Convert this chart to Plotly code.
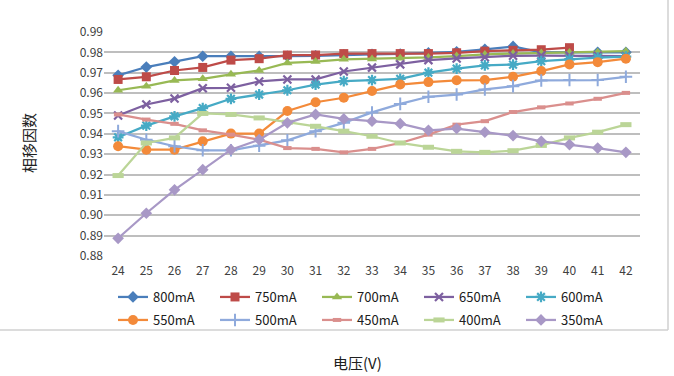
import plotly.graph_objects as go

# Phase-shift factor vs. voltage for each drive current
voltage = list(range(24, 43))

pf_800 = [0.9687, 0.9728, 0.9754, 0.9781, 0.9781, 0.9780, 0.9781, 0.9783, 0.9788, 0.9790,
          0.9792, 0.9797, 0.9803, 0.9815, 0.9829, 0.9800, 0.9800, 0.9800, 0.9800]
pf_750 = [0.9667, 0.9680, 0.9711, 0.9726, 0.9762, 0.9769, 0.9787, 0.9787, 0.9794, 0.9794,
          0.9794, 0.9794, 0.9798, 0.9806, 0.9810, 0.9813, 0.9823, None, None]
pf_700 = [0.9614, 0.9634, 0.9662, 0.9670, 0.9692, 0.9711, 0.9748, 0.9755, 0.9766, 0.9768,
          0.9771, 0.9775, 0.9782, 0.9790, 0.9794, 0.9797, 0.9799, 0.9800, 0.9806]
pf_650 = [0.9490, 0.9544, 0.9573, 0.9624, 0.9626, 0.9657, 0.9667, 0.9667, 0.9706, 0.9725,
          0.9741, 0.9762, 0.9770, 0.9776, 0.9783, 0.9784, 0.9784, 0.9783, 0.9782]
pf_600 = [0.9383, 0.9440, 0.9486, 0.9526, 0.9572, 0.9593, 0.9614, 0.9642, 0.9659, 0.9664,
          0.9670, 0.9700, 0.9720, 0.9736, 0.9740, 0.9757, 0.9766, 0.9774, 0.9779]
pf_550 = [0.9339, 0.9322, 0.9322, 0.9363, 0.9401, 0.9401, 0.9512, 0.9555, 0.9577, 0.9610,
          0.9642, 0.9654, 0.9663, 0.9664, 0.9680, 0.9708, 0.9741, 0.9752, 0.9769]
pf_500 = [0.9413, 0.9371, 0.9339, 0.9319, 0.9319, 0.9342, 0.9368, 0.9413, 0.9454, 0.9505,
          0.9547, 0.9582, 0.9593, 0.9618, 0.9634, 0.9662, 0.9664, 0.9664, 0.9680]
pf_450 = [0.9495, 0.9470, 0.9449, 0.9417, 0.9396, 0.9371, 0.9330, 0.9326, 0.9309, 0.9326,
          0.9355, 0.9396, 0.9445, 0.9462, 0.9507, 0.9530, 0.9549, 0.9572, 0.9601]
pf_400 = [0.9195, 0.9355, 0.9380, 0.9500, 0.9495, 0.9478, 0.9457, 0.9437, 0.9413, 0.9388,
          0.9355, 0.9334, 0.9314, 0.9309, 0.9317, 0.9343, 0.9380, 0.9408, 0.9445]
pf_350 = [0.8887, 0.9010, 0.9125, 0.9224, 0.9322, 0.9371, 0.9454, 0.9495, 0.9473, 0.9462,
          0.9450, 0.9417, 0.9426, 0.9408, 0.9391, 0.9363, 0.9347, 0.9330, 0.9309]

y_ticks = [0.88, 0.89, 0.90, 0.91, 0.92, 0.93, 0.94, 0.95, 0.96, 0.97, 0.98, 0.99]

FONT = "Noto Sans CJK SC, Noto Sans, sans-serif"
TXT = "#404040"

series = [
    ("800mA", pf_800, "#4A7EBB", "diamond", 9, 0, "legend"),
    ("750mA", pf_750, "#BE4B48", "square", 9, 0, "legend"),
    ("700mA", pf_700, "#98B954", "triangle-up", 9, 0, "legend"),
    ("650mA", pf_650, "#7D60A0", "x-thin-open", 8, 2.2, "legend"),
    ("600mA", pf_600, "#46AAC5", "asterisk-open", 9, 2.2, "legend"),
    ("550mA", pf_550, "#F38A3A", "circle", 10, 0, "legend2"),
    ("500mA", pf_500, "#8FAADC", "cross-thin-open", 9, 2, "legend2"),
    ("450mA", pf_450, "#DA8F8D", "line-ew-open", 6, 4, "legend2"),
    ("400mA", pf_400, "#BBD597", "line-ew-open", 8, 5, "legend2"),
    ("350mA", pf_350, "#A898C6", "diamond", 9, 0, "legend2"),
]

fig = go.Figure()
for name, vals, color, sym, size, lw, leg in series:
    fig.add_trace(go.Scatter(
        x=voltage, y=vals, name=name, mode="lines+markers",
        line=dict(color=color, width=2.25),
        marker=dict(symbol=sym, size=size, color=color,
                    line=dict(color=color, width=lw)),
        legend=leg,
    ))

W, H = 674, 376
L, R, T, B = 104, 34, 32, 120
pw, ph = W - L - R, H - T - B


def px_x(px):
    return (px - L) / pw


def px_y(py):
    return (H - B - py) / ph


legend_common = dict(
    orientation="h", xanchor="left", yanchor="middle",
    font=dict(family=FONT, size=13, color="#202020"),
    entrywidth=57, entrywidthmode="pixels",
    bgcolor="rgba(0,0,0,0)", tracegroupgap=0,
)

fig.update_layout(
    width=W, height=H,
    margin=dict(l=L, r=R, t=T, b=B),
    paper_bgcolor="white", plot_bgcolor="white",
    font=dict(family=FONT, size=12, color=TXT),
    showlegend=True,
    legend=dict(x=px_x(113), y=px_y(297), **legend_common),
    legend2=dict(x=px_x(113), y=px_y(320), **legend_common),
    xaxis=dict(
        range=[23.5, 42.5], tickmode="array", tickvals=voltage,
        ticktext=[str(v) for v in voltage],
        showgrid=False, zeroline=False, showline=False, ticks="",
        ticklabelstandoff=6,
        tickfont=dict(family=FONT, size=12, color=TXT),
    ),
    yaxis=dict(
        range=[0.88, 0.99], tickmode="array", tickvals=y_ticks,
        ticktext=[f"{v:.2f}" for v in y_ticks],
        showgrid=True, gridcolor="#BEBEBE", gridwidth=1.5,
        zeroline=False, showline=False, ticks="", ticklen=0,
        tickfont=dict(family=FONT, size=12, color=TXT),
    ),
    annotations=[
        dict(text="电压(V)", xref="paper", yref="paper", x=px_x(357), y=px_y(362),
             showarrow=False, font=dict(family=FONT, size=15, color="#202020"),
             xanchor="center", yanchor="middle"),
        dict(text="相移因数", xref="paper", yref="paper", x=px_x(28), y=px_y(143),
             showarrow=False, textangle=-90, font=dict(family=FONT, size=15, color="#202020"),
             xanchor="center", yanchor="middle"),
    ],
    shapes=[
        dict(type="line", xref="paper", yref="paper",
             x0=px_x(0), x1=px_x(668), y0=px_y(330), y1=px_y(330),
             line=dict(color="#D0D0D0", width=1.5)),
        dict(type="line", xref="paper", yref="paper",
             x0=px_x(668), x1=px_x(668), y0=px_y(330), y1=px_y(0),
             line=dict(color="#D0D0D0", width=1.5)),
    ],
)

fig.write_html("out.html")
